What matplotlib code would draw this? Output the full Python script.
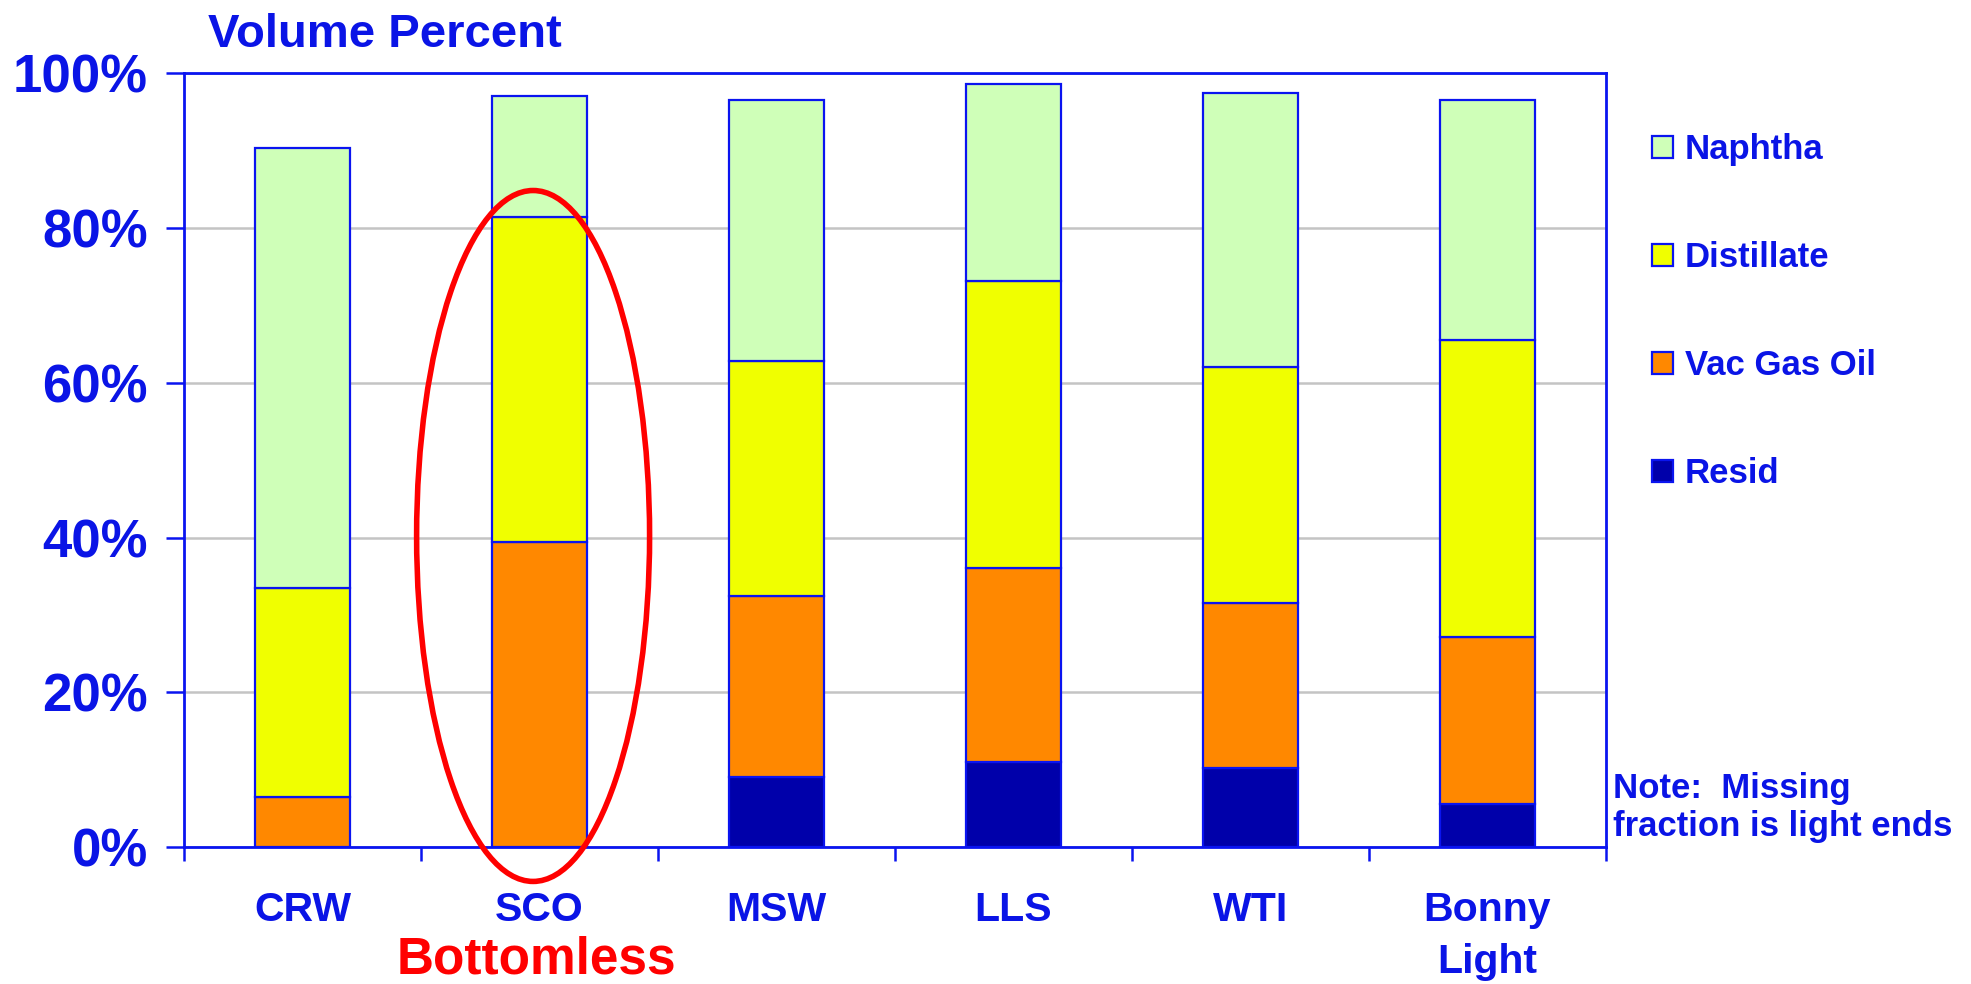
import matplotlib
matplotlib.use("Agg")
import matplotlib.pyplot as plt
from matplotlib.patches import Ellipse, Patch
from matplotlib.ticker import PercentFormatter, FixedLocator
import numpy as np

plt.rcParams['font.family'] = ['Liberation Sans', 'DejaVu Sans']
plt.rcParams['font.weight'] = 'bold'

# Crude assay: volume percent of each cut
categories = ['CRW', 'SCO', 'MSW', 'LLS', 'WTI', 'Bonny\nLight']
resid = [0.0, 0.0, 9.1, 11.0, 10.2, 5.6]
vac_gas_oil = [6.4, 39.4, 23.3, 25.1, 21.4, 21.5]
distillate = [27.1, 42.0, 30.4, 37.1, 30.4, 38.4]
naphtha = [56.9, 15.7, 33.8, 25.4, 35.4, 31.1]

series_names = ['Resid', 'Vac Gas Oil', 'Distillate', 'Naphtha']
series_values = [resid, vac_gas_oil, distillate, naphtha]
series_colors = ['#0000AA', '#FF8800', '#F0FF00', '#CFFFB8']

BLUE = '#0A14E6'
EDGE = '#0A14F0'
RED = '#FF0000'

W, H = 1971, 984
fig = plt.figure(figsize=(W / 100, H / 100), dpi=100)
ax = fig.add_axes([184 / W, 1 - 847 / H, (1606 - 184) / W, (847 - 73.3) / H])

x = np.arange(len(categories))
bottom = np.zeros(len(categories))
for name, vals, col in zip(series_names, series_values, series_colors):
    vals = np.asarray(vals)
    ax.bar(x, vals, width=0.4, bottom=bottom, color=col, edgecolor=EDGE,
           linewidth=1.6, label=name, zorder=3)
    bottom += vals

ax.set_xlim(-0.5, len(categories) - 0.5)
ax.set_ylim(0, 100)

# Axes frame
for sp in ax.spines.values():
    sp.set_color(EDGE)
    sp.set_linewidth(2)

# Y axis
ax.set_yticks(np.arange(0, 101, 20))
ax.yaxis.set_major_formatter(PercentFormatter(decimals=0))
ax.tick_params(axis='y', direction='out', length=13, width=1.8, color=EDGE,
               pad=13, labelsize=38, labelcolor=BLUE)
ax.yaxis.grid(True, color='#C4C4C4', linewidth=1.8, zorder=0)
ax.set_axisbelow(True)

# X axis: labels at centres, ticks between categories
ax.set_xticks(x)
ax.set_xticklabels(categories, linespacing=1.44)
ax.xaxis.set_minor_locator(FixedLocator(np.arange(-0.5, len(categories), 1.0)))
ax.tick_params(axis='x', which='major', length=0, pad=32, labelsize=29.5,
               labelcolor=BLUE)
ax.tick_params(axis='x', which='minor', direction='out', length=10, width=1.8,
               color=EDGE)
for lbl in ax.get_xticklabels():
    lbl.set_verticalalignment('top')

# Highlight around SCO
ell = Ellipse((0.973, 40.2), width=0.983, height=89.3, fill=False,
              edgecolor=RED, linewidth=4, zorder=5, clip_on=False)
ax.add_patch(ell)
ax.annotate('Bottomless', xy=(0.985, 1 - 973 / H),
            xycoords=('data', 'figure fraction'), ha='center', va='baseline',
            fontsize=37, color=RED, fontweight='bold', annotation_clip=False)

# Title
fig.text(208 / W, 1 - 47 / H, 'Volume Percent', fontsize=34, color=BLUE,
         fontweight='bold', ha='left', va='baseline')

# Legend (top series first)
handles = [Patch(facecolor=c, edgecolor=EDGE, linewidth=1.6)
           for c in series_colors][::-1]
labels = series_names[::-1]
leg = fig.legend(handles, labels, loc='upper left',
                 bbox_to_anchor=(1652 / W, 1 - 133 / H),
                 frameon=False, fontsize=25, handlelength=0.6,
                 handleheight=0.58, handletextpad=0.35, labelspacing=2.16,
                 borderpad=0, borderaxespad=0)
for t in leg.get_texts():
    t.set_color(BLUE)
    t.set_fontweight('bold')

# Note
fig.text(1613 / W, 1 - 772 / H, 'Note:  Missing\nfraction is light ends',
         fontsize=25, color=BLUE, fontweight='bold', ha='left', va='top',
         linespacing=1.2)

fig.savefig('out.png', dpi=100)
